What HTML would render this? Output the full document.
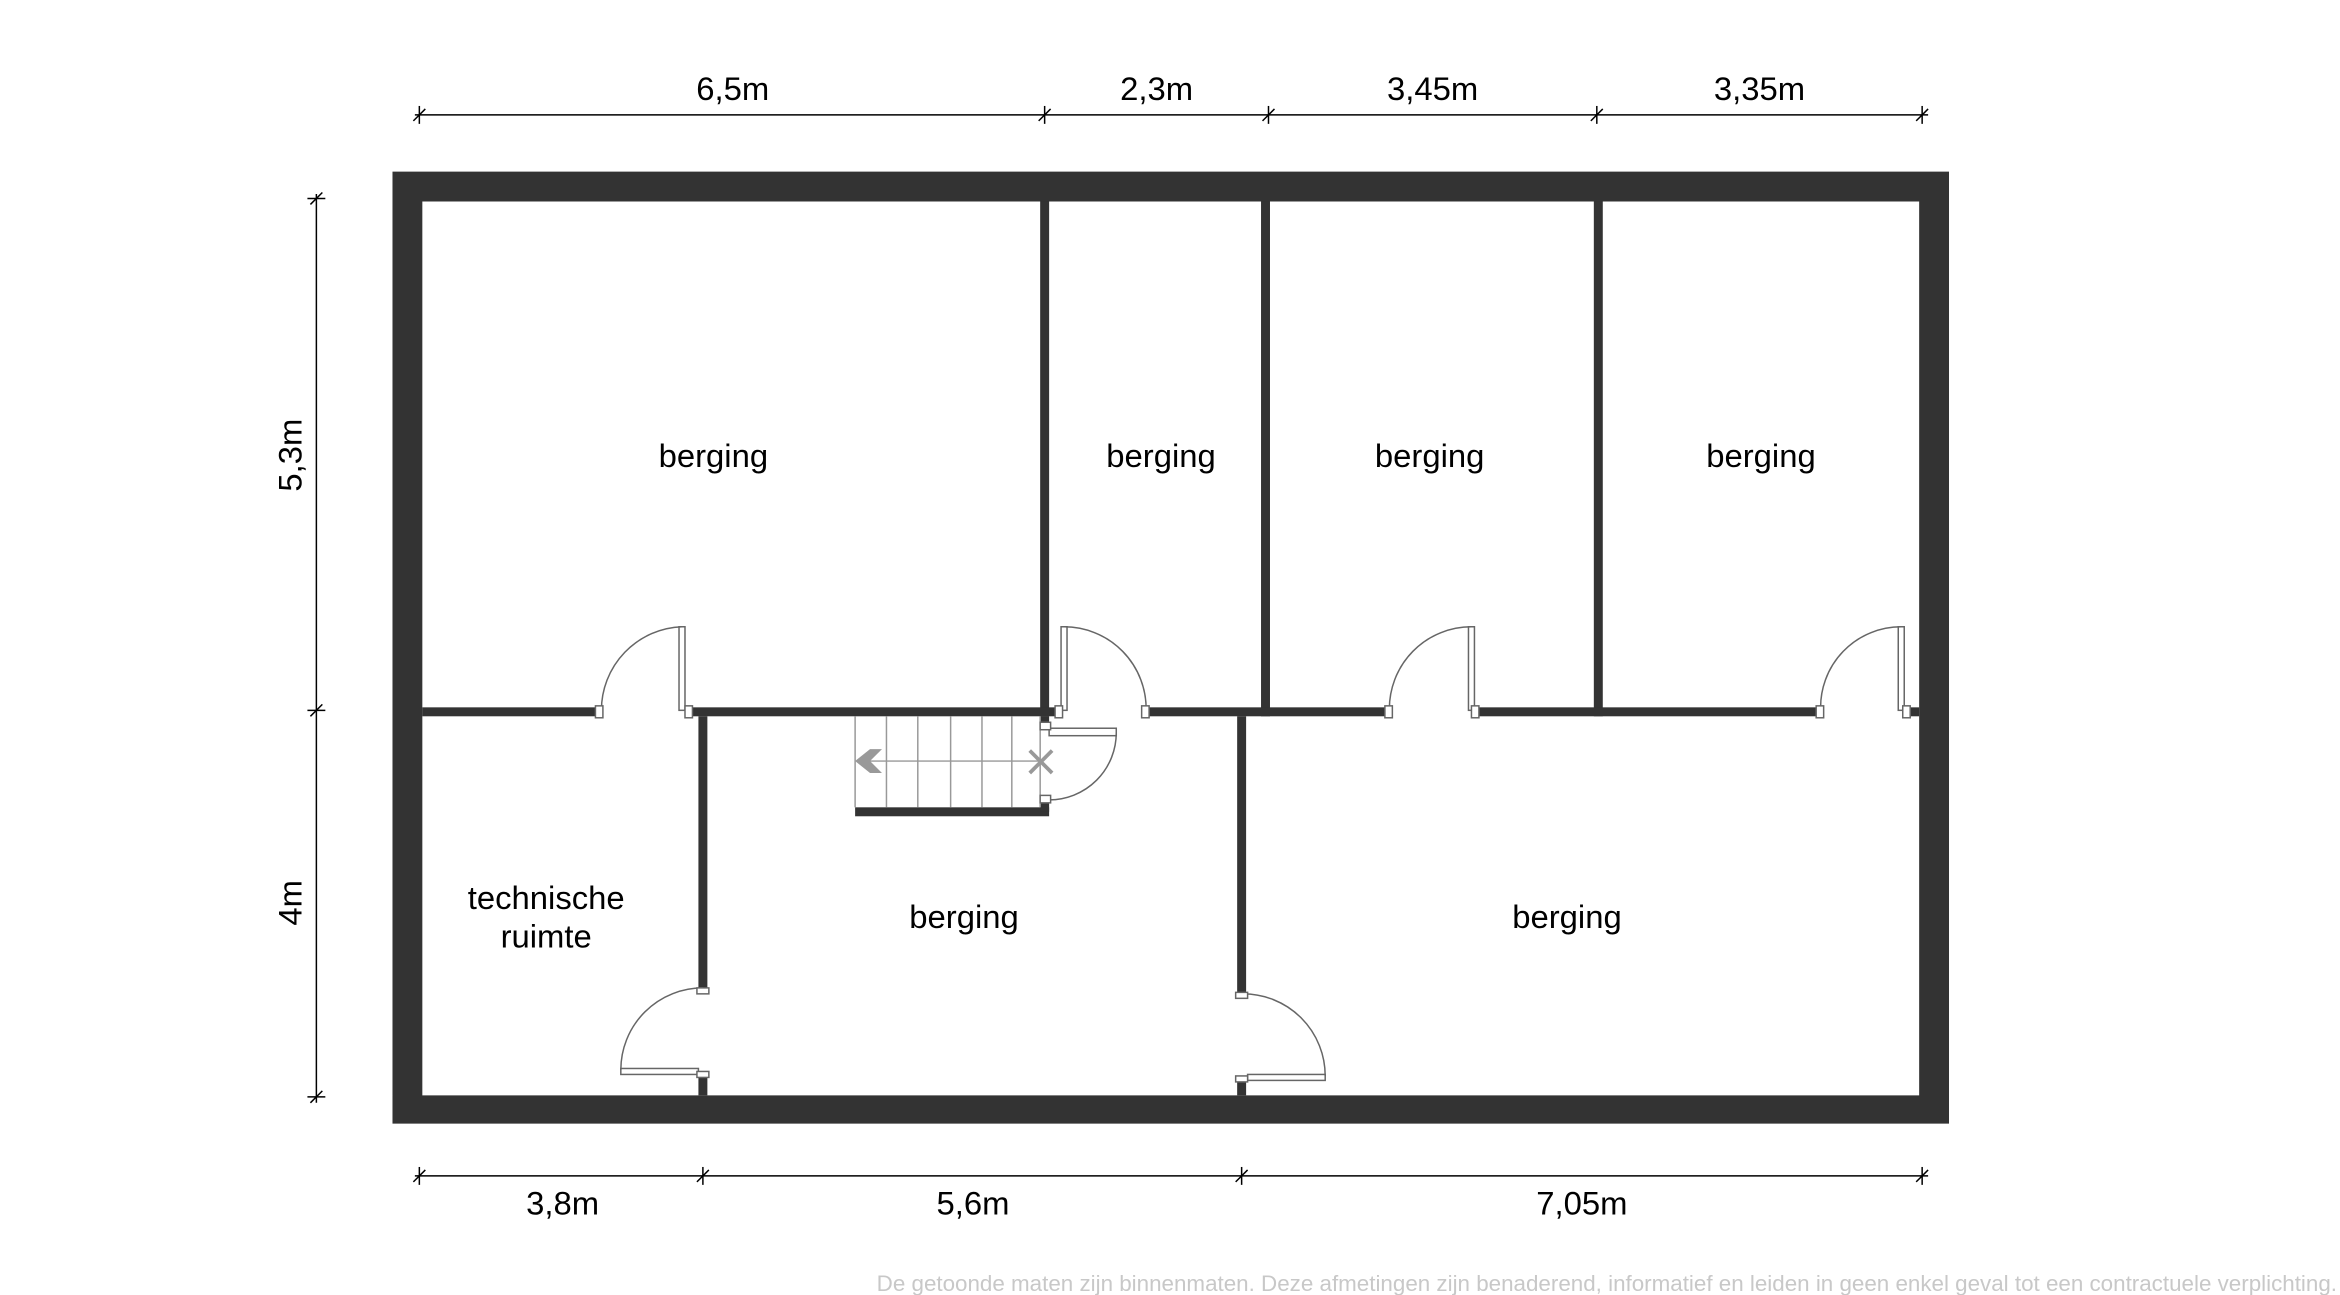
<!DOCTYPE html>
<html><head><meta charset="utf-8"><style>
html,body{margin:0;padding:0;background:#fff;}
svg{display:block;}
text{font-family:"Liberation Sans",Arial,sans-serif;fill:#000;}
</style></head><body>
<svg width="2340" height="1295" viewBox="0 0 1568 867.8" preserveAspectRatio="none" xmlns="http://www.w3.org/2000/svg">
<path d="M263,115H1306V753H263Z M283,135V734H1286V135Z" fill="#333" fill-rule="evenodd"/>
<g fill="#333">
<rect x="697" y="135" width="6" height="345"/>
<rect x="845" y="135" width="6" height="345"/>
<rect x="1068" y="135" width="6" height="345"/>
<rect x="283" y="474" width="119" height="6"/>
<rect x="460" y="474" width="252" height="6"/>
<rect x="768" y="474" width="162" height="6"/>
<rect x="988" y="474" width="232" height="6"/>
<rect x="1280" y="474" width="6" height="6"/>
<rect x="468" y="480" width="6" height="185"/>
<rect x="468" y="721" width="6" height="13"/>
<rect x="829" y="480" width="6" height="188"/>
<rect x="829" y="725" width="6" height="9"/>
<rect x="573" y="541" width="130" height="6"/>
<rect x="697" y="480" width="6" height="5"/>
<rect x="697" y="536" width="6" height="8"/>
</g>
<g stroke="#999" stroke-width="1" fill="none">
<line x1="573" y1="480" x2="573" y2="541"/>
<line x1="594" y1="480" x2="594" y2="541"/>
<line x1="615" y1="480" x2="615" y2="541"/>
<line x1="637" y1="480" x2="637" y2="541"/>
<line x1="658" y1="480" x2="658" y2="541"/>
<line x1="678" y1="480" x2="678" y2="541"/>
<line x1="697" y1="480" x2="697" y2="541"/>
<line x1="575" y1="510" x2="697" y2="510"/>
</g>
<polygon points="573,510 583,502 591,502 583,510 591,518 583,518" fill="#999"/>
<g stroke="#999" stroke-width="2.5"><line x1="690" y1="503" x2="705" y2="518"/><line x1="705" y1="503" x2="690" y2="518"/></g>
<g stroke="#666" stroke-width="1" fill="#fff">
<rect x="455" y="420" width="4" height="56"/>
<path d="M457,420 A56,56 0 0 0 403,476" fill="none"/>
<rect x="399" y="473" width="5" height="8"/><rect x="459" y="473" width="5" height="8"/>
<rect x="711" y="420" width="4" height="56"/>
<path d="M713,420 A55,55 0 0 1 768,476" fill="none"/>
<rect x="707" y="473" width="5" height="8"/><rect x="765" y="473" width="5" height="8"/>
<rect x="984" y="420" width="4" height="56"/>
<path d="M986,420 A55,55 0 0 0 931,476" fill="none"/>
<rect x="928" y="473" width="5" height="8"/><rect x="986" y="473" width="5" height="8"/>
<rect x="1272" y="420" width="4" height="56"/>
<path d="M1274,420 A54,54 0 0 0 1220,476" fill="none"/>
<rect x="1217" y="473" width="5" height="8"/><rect x="1275" y="473" width="5" height="8"/>
<rect x="703" y="488" width="45" height="5"/>
<path d="M748,491 A45,45 0 0 1 703,536" fill="none"/>
<rect x="697" y="484" width="7" height="5"/><rect x="697" y="533" width="7" height="5"/>
<rect x="416" y="716" width="52" height="4"/>
<path d="M416,717 A55,55 0 0 1 471,662" fill="none"/>
<rect x="467" y="662" width="8" height="4"/><rect x="467" y="718" width="8" height="4"/>
<rect x="836" y="720" width="52" height="4"/>
<path d="M888,721 A55,55 0 0 0 833,666" fill="none"/>
<rect x="828" y="665" width="8" height="4"/><rect x="828" y="721" width="8" height="4"/>
</g>
<g stroke="#000" stroke-width="1">
<line x1="278" y1="77" x2="1292" y2="77"/>
<line x1="281" y1="71" x2="281" y2="83"/><line x1="277" y1="81" x2="285" y2="73"/>
<line x1="700" y1="71" x2="700" y2="83"/><line x1="696" y1="81" x2="704" y2="73"/>
<line x1="850" y1="71" x2="850" y2="83"/><line x1="846" y1="81" x2="854" y2="73"/>
<line x1="1070" y1="71" x2="1070" y2="83"/><line x1="1066" y1="81" x2="1074" y2="73"/>
<line x1="1288" y1="71" x2="1288" y2="83"/><line x1="1284" y1="81" x2="1292" y2="73"/>
<line x1="278" y1="788" x2="1292" y2="788"/>
<line x1="281" y1="782" x2="281" y2="794"/><line x1="277" y1="792" x2="285" y2="784"/>
<line x1="471" y1="782" x2="471" y2="794"/><line x1="467" y1="792" x2="475" y2="784"/>
<line x1="832" y1="782" x2="832" y2="794"/><line x1="828" y1="792" x2="836" y2="784"/>
<line x1="1288" y1="782" x2="1288" y2="794"/><line x1="1284" y1="792" x2="1292" y2="784"/>
<line x1="212" y1="130" x2="212" y2="739"/>
<line x1="206" y1="133" x2="218" y2="133"/><line x1="208" y1="137" x2="216" y2="129"/>
<line x1="206" y1="476" x2="218" y2="476"/><line x1="208" y1="480" x2="216" y2="472"/>
<line x1="206" y1="735" x2="218" y2="735"/><line x1="208" y1="739" x2="216" y2="731"/>
</g>
<g font-size="22" text-anchor="middle">
<text x="491" y="67">6,5m</text>
<text x="775" y="67">2,3m</text>
<text x="960" y="67">3,45m</text>
<text x="1179" y="67">3,35m</text>
<text x="377" y="814">3,8m</text>
<text x="652" y="814">5,6m</text>
<text x="1060" y="814">7,05m</text>
<text transform="translate(202,305) rotate(-90)">5,3m</text>
<text transform="translate(202,605) rotate(-90)">4m</text>
<text x="478" y="313">berging</text>
<text x="778" y="313">berging</text>
<text x="958" y="313">berging</text>
<text x="1180" y="313">berging</text>
<text x="646" y="622">berging</text>
<text x="1050" y="622">berging</text>
<text x="366" y="609">technische</text>
<text x="366" y="635">ruimte</text>
</g>
<text x="1566" y="865" font-size="15" text-anchor="end" style="fill:#c8c8c8">De getoonde maten zijn binnenmaten. Deze afmetingen zijn benaderend, informatief en leiden in geen enkel geval tot een contractuele verplichting.</text>
</svg>
</body></html>
